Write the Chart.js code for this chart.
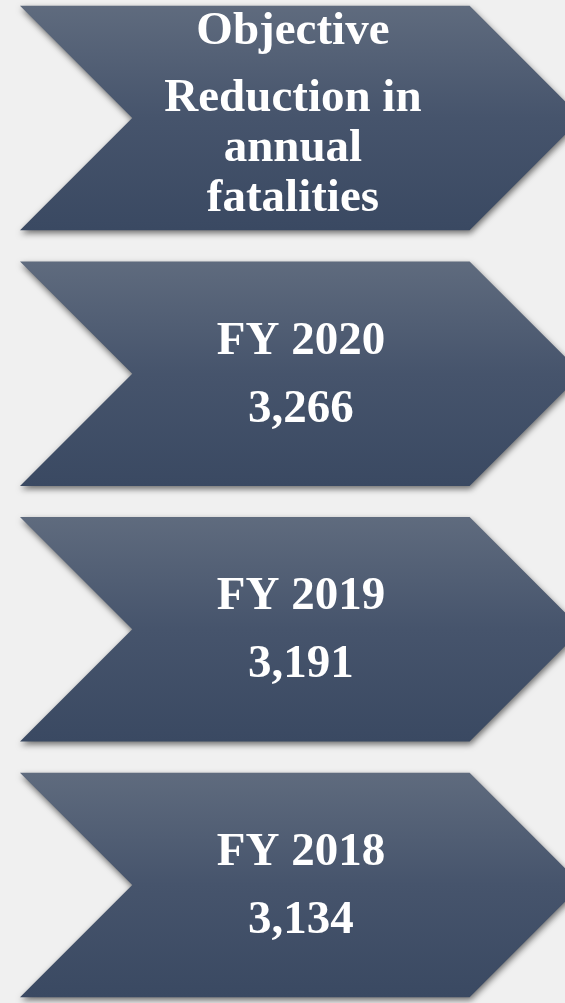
<!DOCTYPE html>
<html>
<head>
<meta charset="utf-8">
<script src="https://cdn.jsdelivr.net/npm/chart.js@4/dist/chart.umd.min.js"></script>
<style>
  html, body { margin: 0; padding: 0; background: #f0f0f0; }
  #wrap { width: 565px; height: 1003px; position: relative; }
</style>
</head>
<body>
<div id="wrap"><canvas id="chevrons"></canvas></div>
<script>
// Chart data
const categories = ["Objective", "FY 2020", "FY 2019", "FY 2018"];
const fatalities = [null, 3266, 3191, 3134];
const objectiveLines = ["Reduction in", "annual", "fatalities"];
// every chevron runs the full width
const spans = [[0, 1], [0, 1], [0, 1], [0, 1]];

// Draw each bar as a chevron with gradient + shadow, then its labels
const chevronPlugin = {
  id: "chevrons",
  afterDatasetsDraw(chart) {
    const ctx = chart.ctx;
    const meta = chart.getDatasetMeta(0);
    meta.data.forEach((bar, i) => {
      const p = bar.getProps(["x", "y", "base", "height"], true);
      const half = p.height / 2;
      const top = p.y - half;
      const bottom = p.y + half;
      const left = p.base;
      const right = p.x;
      const depth = half;

      ctx.save();
      ctx.beginPath();
      ctx.moveTo(left, top);
      ctx.lineTo(right - depth, top);
      ctx.lineTo(right, p.y);
      ctx.lineTo(right - depth, bottom);
      ctx.lineTo(left, bottom);
      ctx.lineTo(left + depth, p.y);
      ctx.closePath();

      const grad = ctx.createLinearGradient(0, top, 0, bottom);
      grad.addColorStop(0, "#5f6b7e");
      grad.addColorStop(0.5, "#46546c");
      grad.addColorStop(1, "#3a4962");
      ctx.fillStyle = grad;
      ctx.shadowColor = "rgba(0, 0, 0, 0.55)";
      ctx.shadowBlur = 6;
      ctx.shadowOffsetX = 1;
      ctx.shadowOffsetY = 3;
      ctx.fill();
      ctx.restore();

      // labels
      ctx.save();
      ctx.fillStyle = "#ffffff";
      ctx.font = "bold 47px 'Liberation Serif', 'Times New Roman', serif";
      ctx.textAlign = "center";
      ctx.textBaseline = "alphabetic";
      const cx = (left + depth + right - depth) / 2;
      if (fatalities[i] == null) {
        const x = cx - 8;
        ctx.fillText(categories[i], x, p.y - 74);
        ctx.fillText(objectiveLines[0], x, p.y - 7);
        ctx.fillText(objectiveLines[1], x, p.y + 43);
        ctx.fillText(objectiveLines[2], x, p.y + 93);
      } else {
        ctx.fillText(categories[i], cx, p.y - 20);
        ctx.fillText(fatalities[i].toLocaleString("en-US"), cx, p.y + 48);
      }
      ctx.restore();
    });
  }
};

new Chart(document.getElementById("chevrons"), {
  type: "bar",
  data: {
    labels: categories,
    datasets: [{
      data: spans,
      backgroundColor: "rgba(0,0,0,0)",
      borderWidth: 0,
      categoryPercentage: 1,
      barPercentage: 0.878,
      clip: false
    }]
  },
  options: {
    indexAxis: "y",
    responsive: true,
    maintainAspectRatio: false,
    animation: false,
    layout: { padding: { top: 118, bottom: 118, left: 20, right: 0 } },
    scales: {
      x: { display: false, min: 0, max: 0.97 },
      y: { display: false, offset: false }
    },
    plugins: {
      legend: { display: false },
      tooltip: { enabled: false }
    }
  },
  plugins: [chevronPlugin]
});
</script>
</body>
</html>
